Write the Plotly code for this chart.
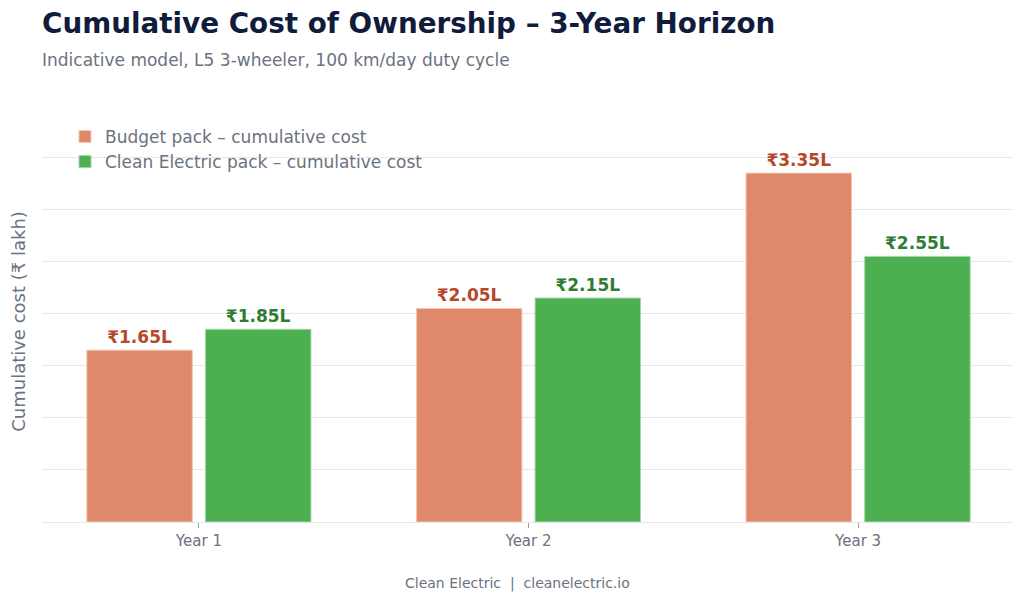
import plotly.graph_objects as go

# Chart data (₹ lakh, cumulative)
years = ["Year 1", "Year 2", "Year 3"]
budget_cost = [1.65, 2.05, 3.35]
clean_cost = [1.85, 2.15, 2.55]
budget_labels = ["₹1.65L", "₹2.05L", "₹3.35L"]
clean_labels = ["₹1.85L", "₹2.15L", "₹2.55L"]

FONT = "DejaVu Sans"
GREY = "#6b7280"

fig = go.Figure()

fig.add_trace(go.Bar(
    x=years, y=budget_cost,
    name="Budget pack – cumulative cost",
    marker=dict(color="#e0896a", line=dict(color="#f3c7b6", width=1)),
    text=budget_labels, textposition="outside", cliponaxis=False,
    textfont=dict(family=FONT, size=17, color="#b5482a", weight="bold"),
    width=0.32, offset=-0.34,
))

fig.add_trace(go.Bar(
    x=years, y=clean_cost,
    name="Clean Electric pack – cumulative cost",
    marker=dict(color="#4caf50", line=dict(color="#a5d6a7", width=1)),
    text=clean_labels, textposition="outside", cliponaxis=False,
    textfont=dict(family=FONT, size=17, color="#2e7d32", weight="bold"),
    width=0.32, offset=0.02,
))

# page body has an 8px margin, so the figure is drawn 8px smaller
fig.update_layout(
    width=1016, height=594,
    barmode="overlay",
    plot_bgcolor="white", paper_bgcolor="white",
    font=dict(family=FONT, color=GREY),
    margin=dict(l=34, r=11, t=113, b=80),
    showlegend=True,
    legend=dict(
        x=23 / 971, y=1 + 2 / 401, xanchor="left", yanchor="top",
        bgcolor="rgba(0,0,0,0)",
        font=dict(family=FONT, size=17, color=GREY),
        tracegroupgap=1,
    ),
)

fig.add_annotation(
    text="<b>Cumulative Cost of Ownership – 3-Year Horizon</b>",
    xref="paper", yref="paper", x=0.0, y=1.0, yshift=98, xshift=-2,
    xanchor="left", yanchor="middle", showarrow=False,
    font=dict(family=FONT, size=27.8, color="#111c3d"),
)
fig.add_annotation(
    text="Indicative model, L5 3-wheeler, 100 km/day duty cycle",
    xref="paper", yref="paper", x=0.0, y=1.0, yshift=61, xshift=-2,
    xanchor="left", yanchor="middle", showarrow=False,
    font=dict(family=FONT, size=17, color=GREY),
)
fig.add_annotation(
    text="Clean Electric  |  cleanelectric.io",
    xref="paper", yref="paper", x=0.5, y=0.0, yshift=-61, xshift=-10,
    xanchor="center", yanchor="middle", showarrow=False,
    font=dict(family=FONT, size=14, color=GREY),
)

fig.update_xaxes(
    range=[-0.476, 2.47],
    showgrid=False, showline=False,
    ticks="outside", ticklen=5, tickcolor="#9ca3af",
    tickfont=dict(family=FONT, size=15, color=GREY),
)
fig.update_yaxes(
    range=[0, 3.85], dtick=0.5, automargin=False,
    showticklabels=False, showgrid=True, gridcolor="#e5e7eb", gridwidth=1,
    zeroline=True, zerolinecolor="#e5e7eb", zerolinewidth=1,
    title=dict(text="Cumulative cost (₹ lakh)", standoff=11,
               font=dict(family=FONT, size=18, color=GREY)),
)

fig.write_html("out.html")
